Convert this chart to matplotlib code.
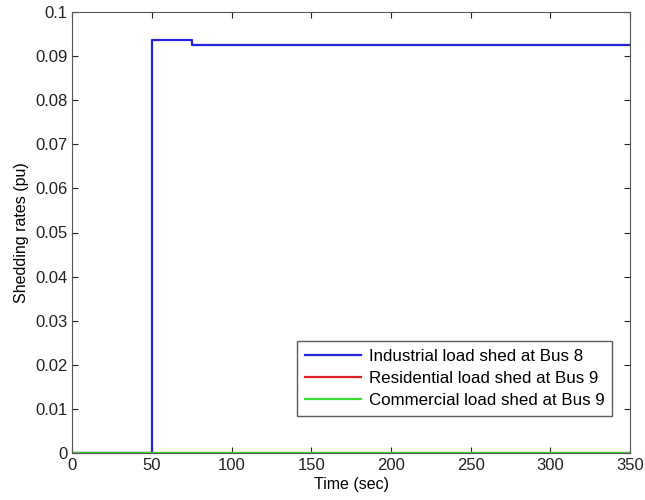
import numpy as np
import matplotlib
matplotlib.use("Agg")
import matplotlib.pyplot as plt

plt.rcParams['font.family'] = ['Liberation Sans', 'DejaVu Sans']

# step data
t_ind = [0, 50, 50, 75, 75, 350]
ind = [0, 0, 0.0937, 0.0937, 0.0926, 0.0926]
t_res = [0, 350]
res = [0, 0]
t_com = [0, 350]
com = [0, 0]

fig = plt.figure(figsize=(6.45, 5.0), dpi=100)
ax = fig.add_axes([0.112, 0.094, 0.865, 0.882])

ax.plot(t_ind, ind, color='#2222dd', lw=1.6, label='Industrial load shed at Bus 8')
ax.plot(t_res, res, color='#dd2222', lw=1.6, label='Residential load shed at Bus 9')
ax.plot(t_com, com, color='#33dd33', lw=1.6, label='Commercial load shed at Bus 9')

ax.set_xlim(0, 350)
ax.set_ylim(0, 0.1)
ax.set_xticks(np.arange(0, 351, 50))
ax.set_yticks(np.arange(0, 0.101, 0.01))
ax.set_yticklabels(['0', '0.01', '0.02', '0.03', '0.04', '0.05', '0.06', '0.07', '0.08', '0.09', '0.1'])
ax.tick_params(direction='in', length=4, labelsize=12, top=True, right=True, colors='#222222')
for s in ax.spines.values():
    s.set_color('#555555')
ax.set_xlabel('Time (sec)', fontsize=11.5, labelpad=3)
ax.set_ylabel('Shedding rates (pu)', fontsize=11.5)

leg = ax.legend(loc='lower right', bbox_to_anchor=(0.968, 0.084), fontsize=12.2,
                fancybox=False, edgecolor='#333333', handlelength=3.3,
                borderpad=0.45, labelspacing=0.42, handletextpad=0.5,
                borderaxespad=0)
leg.get_frame().set_linewidth(1.0)

fig.savefig('out.png')
